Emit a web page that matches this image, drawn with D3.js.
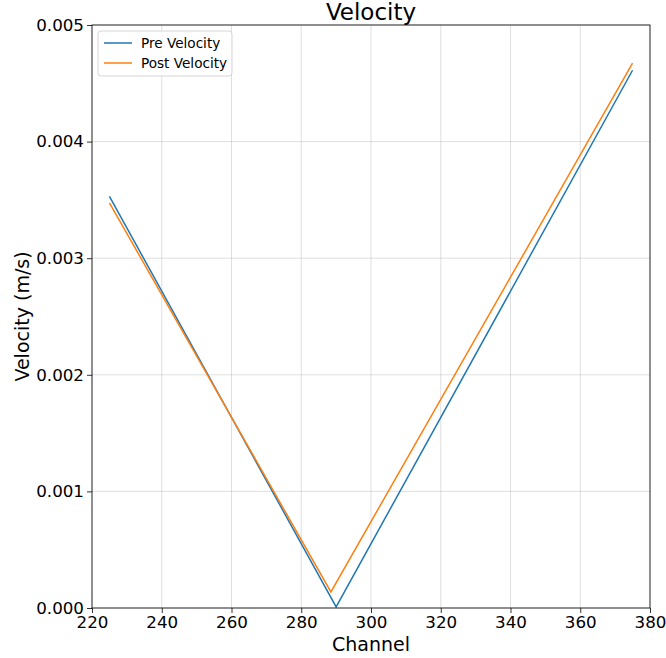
<!DOCTYPE html>
<html><head><meta charset="utf-8">
<script src="https://cdn.jsdelivr.net/npm/d3@7"></script>
<style>body{margin:0;background:#fff;} text{font-family:"DejaVu Sans",sans-serif;}</style>
</head><body>
<svg id="c" width="666" height="658"></svg>
<script>
const preChannels = [225, 290, 375];
const preValues = [0.00353, 0.00001, 0.004612];
const postChannels = [225, 288.5, 375];
const postValues = [0.003475, 0.000138, 0.004672];
const xTicks = [220, 240, 260, 280, 300, 320, 340, 360, 380];
const yTicks = [0, 0.001, 0.002, 0.003, 0.004, 0.005];
const seriesNames = ["Pre Velocity", "Post Velocity"];
const colors = ["#1f77b4", "#ff7f0e"];

const m = {l: 92, r: 650, t: 25, b: 608};
const svg = d3.select("#c");
const x = d3.scaleLinear().domain([220, 380]).range([m.l, m.r]);
const y = d3.scaleLinear().domain([0, 0.005]).range([m.b, m.t]);

// grid
svg.append("g").selectAll("line").data(xTicks).join("line")
  .attr("x1", d => x(d)).attr("x2", d => x(d)).attr("y1", m.t).attr("y2", m.b)
  .attr("stroke", "#b0b0b0").attr("stroke-opacity", 0.5).attr("stroke-width", 0.8);
svg.append("g").selectAll("line").data(yTicks).join("line")
  .attr("y1", d => y(d)).attr("y2", d => y(d)).attr("x1", m.l).attr("x2", m.r)
  .attr("stroke", "#b0b0b0").attr("stroke-opacity", 0.5).attr("stroke-width", 0.8);

const series = [
  {name: seriesNames[0], c: colors[0], pts: preChannels.map((d, i) => [d, preValues[i]])},
  {name: seriesNames[1], c: colors[1], pts: postChannels.map((d, i) => [d, postValues[i]])}
];
const line = d3.line().x(d => x(d[0])).y(d => y(d[1]));
series.forEach(s => {
  svg.append("path").attr("d", line(s.pts)).attr("fill", "none")
    .attr("stroke", s.c).attr("stroke-width", 1.5);
});

// axes
const xAxis = d3.axisBottom(x).tickValues(xTicks).tickSize(5).tickPadding(3).tickFormat(d3.format("d"));
const yAxis = d3.axisLeft(y).tickValues(yTicks).tickSize(5).tickPadding(3).tickFormat(d3.format(".3f"));
const gx = svg.append("g").attr("transform", `translate(0,${m.b})`).call(xAxis);
const gy = svg.append("g").attr("transform", `translate(${m.l},0)`).call(yAxis);
[gx, gy].forEach(g => {
  g.select(".domain").remove();
  g.selectAll("text").attr("font-size", 16.7).attr("fill", "#000").attr("font-family", "DejaVu Sans");
  g.selectAll("line").attr("stroke", "#000").attr("stroke-width", 0.8);
});
gx.selectAll("text").attr("dy", "0.72em");
svg.append("rect").attr("x", m.l).attr("y", m.t).attr("width", m.r - m.l).attr("height", m.b - m.t)
  .attr("fill", "none").attr("stroke", "#000").attr("stroke-width", 0.8);

// labels
svg.append("text").attr("x", (m.l + m.r) / 2).attr("y", 20).attr("text-anchor", "middle")
  .attr("font-size", 23).text("Velocity");
svg.append("text").attr("x", (m.l + m.r) / 2).attr("y", 651).attr("text-anchor", "middle")
  .attr("font-size", 19).text("Channel");
svg.append("text").attr("transform", `translate(29,${(m.t + m.b) / 2}) rotate(-90)`).attr("text-anchor", "middle")
  .attr("font-size", 19).text("Velocity (m/s)");

// legend
const lg = svg.append("g");
lg.append("rect").attr("x", 98).attr("y", 31).attr("width", 134).attr("height", 45).attr("rx", 3)
  .attr("fill", "#fff").attr("fill-opacity", 0.8).attr("stroke", "#ccc").attr("stroke-width", 0.8);
series.forEach((s, i) => {
  const yy = 43 + i * 20;
  lg.append("line").attr("x1", 104).attr("x2", 132).attr("y1", yy).attr("y2", yy)
    .attr("stroke", s.c).attr("stroke-width", 1.5);
  lg.append("text").attr("x", 141).attr("y", yy + 4.8).attr("font-size", 13.6).text(s.name);
});
</script>
</body></html>
